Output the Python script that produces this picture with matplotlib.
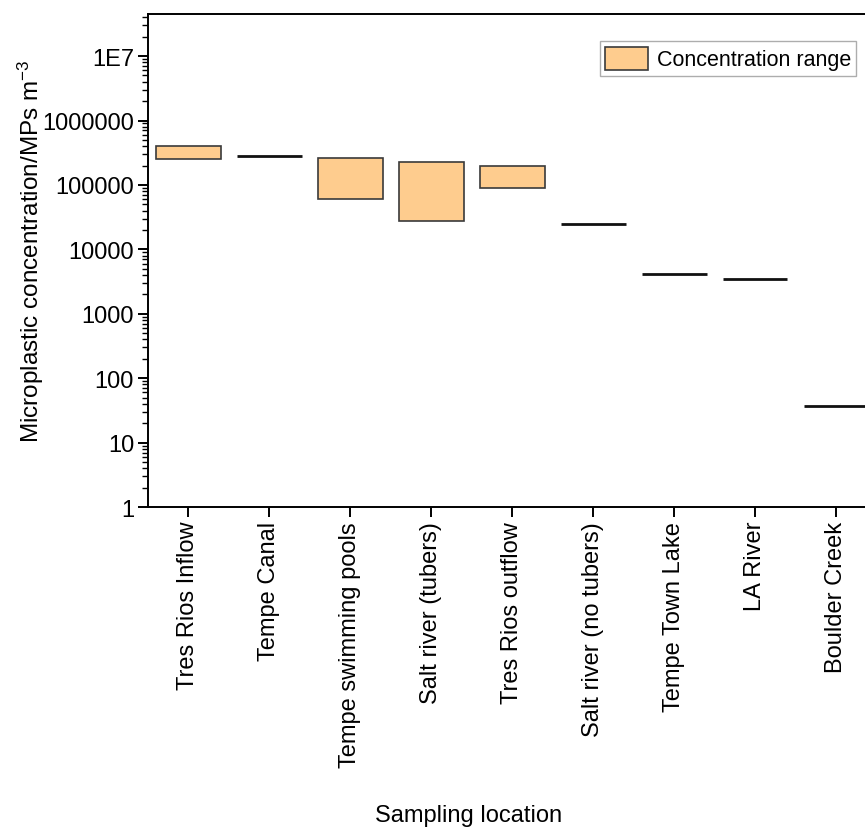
import matplotlib.pyplot as plt
from matplotlib.ticker import LogLocator, FixedFormatter, FixedLocator, NullFormatter

plt.rcParams['font.family'] = ['Liberation Sans', 'DejaVu Sans']
plt.rcParams['mathtext.fontset'] = 'custom'
plt.rcParams['mathtext.rm'] = 'Liberation Sans'
plt.rcParams['mathtext.it'] = 'Liberation Sans:italic'

# Sampling sites and microplastic concentration ranges (MPs per m^3)
locations = ['Tres Rios Inflow', 'Tempe Canal', 'Tempe swimming pools',
             'Salt river (tubers)', 'Tres Rios outflow', 'Salt river (no tubers)',
             'Tempe Town Lake', 'LA River', 'Boulder Creek']
conc_low = [2.5e5, 2.8e5, 6.0e4, 2.8e4, 9.0e4, 2.5e4, 4200, 3500, 37]
conc_high = [4.0e5, 2.8e5, 2.6e5, 2.25e5, 2.0e5, 2.5e4, 4200, 3500, 37]

ytick_vals = [1, 10, 100, 1000, 10000, 100000, 1000000, 1e7]
ytick_text = ['1', '10', '100', '1000', '10000', '100000', '1000000', '1E7']

fig = plt.figure(figsize=(8.65, 8.29), dpi=100)
ax = fig.add_axes([0.1711, 0.3872, 0.8422, 0.5947])

xs = list(range(1, len(locations) + 1))
ranged = [i for i in range(len(xs)) if conc_high[i] > conc_low[i]]
single = [i for i in range(len(xs)) if conc_high[i] == conc_low[i]]

# ranges as floating bars, single measurements as flat lines
ax.bar([xs[i] for i in ranged],
       [conc_high[i] - conc_low[i] for i in ranged],
       bottom=[conc_low[i] for i in ranged], width=0.8,
       color='#FECC8E', edgecolor='#3a3a3a', linewidth=1.2,
       label='Concentration range')
ax.hlines([conc_low[i] for i in single],
          [xs[i] - 0.4 for i in single], [xs[i] + 0.4 for i in single],
          colors='#111111', linewidth=2)

ax.set_yscale('log')
ax.set_ylim(1, 4.5e7)
ax.set_xlim(0.5, len(locations) + 0.5)

ax.yaxis.set_major_locator(FixedLocator(ytick_vals))
ax.yaxis.set_major_formatter(FixedFormatter(ytick_text))
ax.yaxis.set_minor_locator(LogLocator(base=10, subs=range(2, 10), numticks=20))
ax.yaxis.set_minor_formatter(NullFormatter())

ax.set_xticks(xs)
ax.set_xticklabels(locations, rotation=90, va='top', ha='center')

ax.tick_params(axis='both', which='major', direction='out', length=7,
               width=1.4, labelsize=17, pad=3)
ax.tick_params(axis='y', which='minor', direction='out', length=4, width=1)

for side in ['top', 'left', 'bottom', 'right']:
    ax.spines[side].set_linewidth(1.4)

ax.set_ylabel('Microplastic concentration/MPs m$^{-3}$', fontsize=17.5)
ax.yaxis.set_label_coords(-0.14, 0.52)
ax.set_xlabel('Sampling location', fontsize=17)
ax.xaxis.set_label_coords(0.44, -0.603)

leg = ax.legend(loc='upper left', bbox_to_anchor=(0.62, 0.945), fontsize=15.5,
                frameon=True, fancybox=False, edgecolor='#999999',
                handlelength=2.0, handleheight=1.3, borderpad=0.25,
                handletextpad=0.4, borderaxespad=0)
leg.get_frame().set_linewidth(1)

fig.savefig('out.png', dpi=100)
